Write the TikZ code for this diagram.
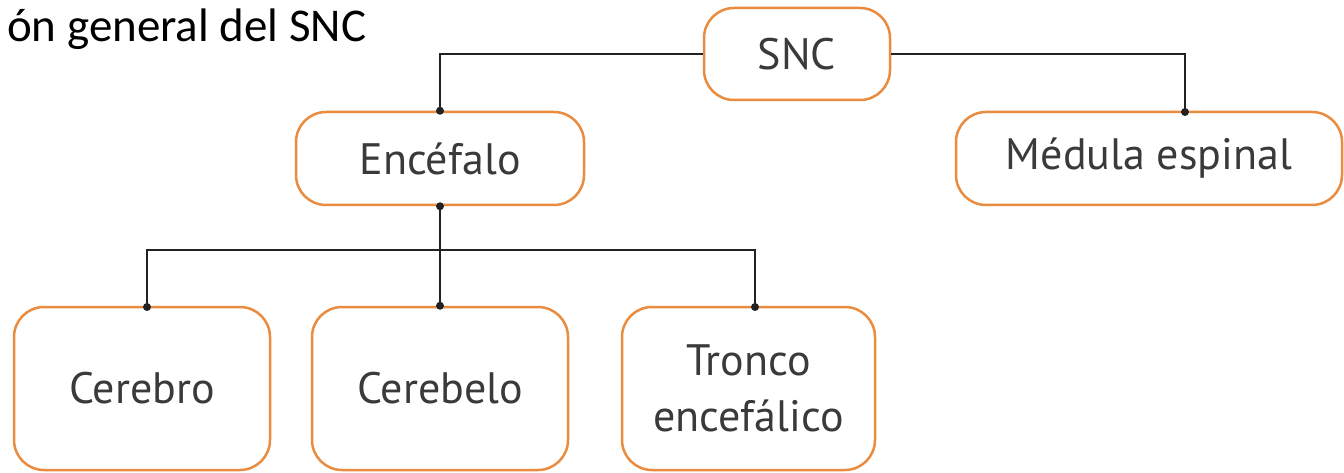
\documentclass[tikz,border=0pt]{standalone}
\usepackage{fontspec}
\setmainfont{PT Sans}
\newfontfamily\titlefont{Carlito}
\definecolor{boxorange}{HTML}{E98C3F}
\definecolor{labelgray}{HTML}{3A3A3A}
\definecolor{wire}{HTML}{222222}
\tikzset{
  box/.style={draw=boxorange, line width=2.5pt, rounded corners=30pt, fill=white,
    text=labelgray, font=\fontsize{44}{56}\selectfont, align=center,
    inner sep=0pt},
  link/.style={draw=wire, line width=2.5pt},
  joint/.style={fill=wire, draw=none}
}
\begin{document}
\begin{tikzpicture}[x=1pt,y=-1pt]
\useasboundingbox (0,0) rectangle (1344,473);

% heading
\node[anchor=base west, inner sep=0pt, font=\titlefont\fontsize{47}{56}\selectfont] (title) at (7,42) {ón general del SNC};

% boxes
\node[box, minimum width=186pt, minimum height=92pt] (snc) at (797,54) {SNC};
\node[box, minimum width=288pt, minimum height=93pt] (enc) at (440,158.5) {Encéfalo};
\node[box, minimum width=386pt, minimum height=93pt] (med) at (1149,158.5) {Médula espinal};
\node[box, minimum width=256pt, minimum height=163pt] (cer) at (142,388.5) {Cerebro};
\node[box, minimum width=256pt, minimum height=163pt] (cbl) at (440,388.5) {Cerebelo};
\node[box, minimum width=253pt, minimum height=163pt] (tro) at (748.5,388.5) {Tronco\\encefálico};

% attachment points on the box edges
\coordinate (medin) at (1185,112);
\coordinate (bus) at (440,250);
\coordinate (cerin) at (147,307);
\coordinate (troin) at (755,307);

% connectors
\draw[link] (snc.west) -| (enc.north);
\draw[link] (snc.east) -| (medin);
\draw[link] (enc.south) -- (cbl.north);
\draw[link] (bus) -| (cerin);
\draw[link] (bus) -| (troin);

% joint dots
\foreach \p in {enc.north, medin, enc.south, cerin, cbl.north, troin}
  \fill[joint] (\p) circle (4pt);
\end{tikzpicture}
\end{document}
